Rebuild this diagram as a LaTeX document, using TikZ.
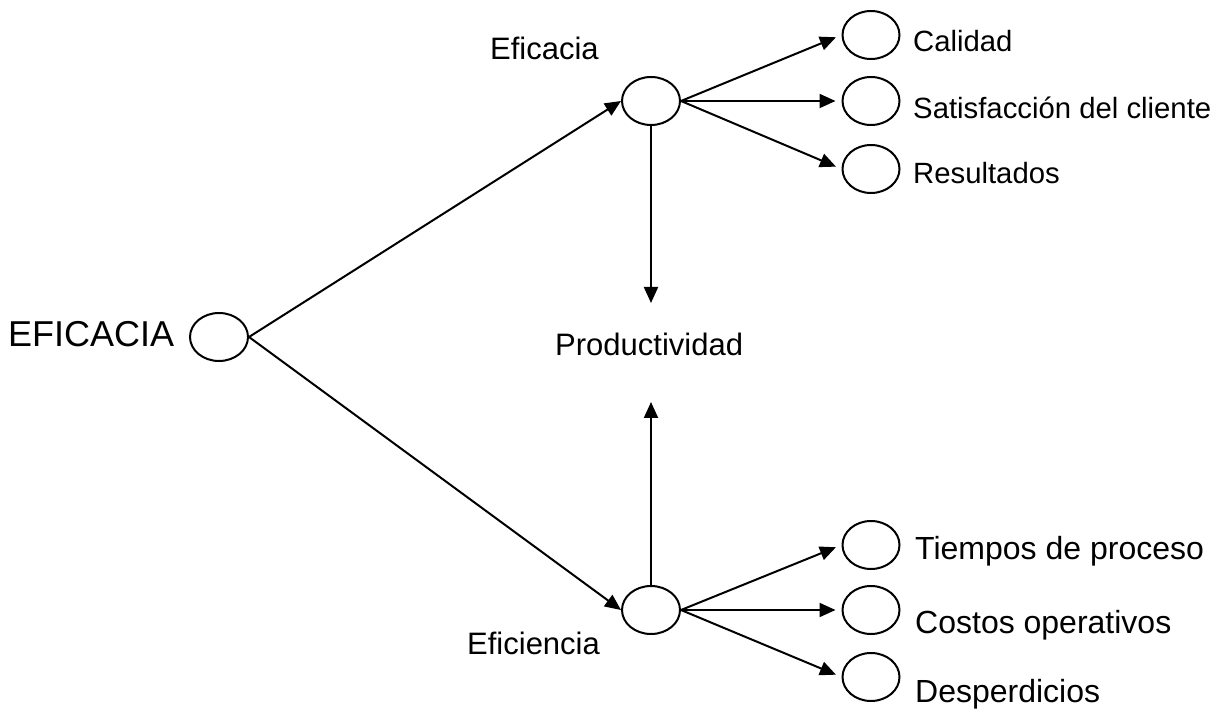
\documentclass[tikz,border=0pt]{standalone}
\usepackage{fontspec}
\setmainfont{Liberation Sans}
\usetikzlibrary{arrows.meta,shapes.geometric}
\newcommand{\fsz}[1]{\fontsize{#1}{#1}\selectfont}
\begin{document}
\begin{tikzpicture}[x=1pt,y=-1pt,
  ov/.style={draw, ellipse, line width=2pt, minimum width=58pt, minimum height=48pt, inner sep=0pt},
  sov/.style={ov, minimum width=57pt},
  arr/.style={line width=2pt, -{Triangle[length=16pt,width=14pt]}},
  lbl/.style={anchor=base west, inner sep=0pt}]
\useasboundingbox (0,0) rectangle (1219,711);
% ellipses
\node[ov] (main) at (219,337) {};
\node[ov] (top) at (651,101) {};
\node[ov] (bot) at (651,610) {};
\node[sov] (r1) at (871,35) {};
\node[sov] (r2) at (871,101) {};
\node[sov] (r3) at (871,169) {};
\node[sov] (r4) at (871,545) {};
\node[sov] (r5) at (871,610) {};
\node[sov] (r6) at (871,677) {};
% labels
\node[lbl, font=\fsz{36}] (tmain) at (8,347) {EFICACIA};
\node[lbl, font=\fsz{31}] (ttop) at (490,60) {Eficacia};
\node[lbl, font=\fsz{31}] (tbot) at (467,654) {Eficiencia};
\node[lbl, font=\fsz{31}] (tprod) at (555,356) {Productividad};
\node[lbl, font=\fsz{29.3}] (l1) at (913,52) {Calidad};
\node[lbl, font=\fsz{29.3}] (l2) at (913,119) {Satisfacción del cliente};
\node[lbl, font=\fsz{29.3}] (l3) at (913,184) {Resultados};
\node[lbl, font=\fsz{32}] (l4) at (915,559) {Tiempos de proceso};
\node[lbl, font=\fsz{32}] (l5) at (915,633) {Costos operativos};
\node[lbl, font=\fsz{32}] (l6) at (915,702) {Desperdicios};
% free ends
\coordinate (pa) at (651,303);
\coordinate (pb) at (651,402);
% connectors
\draw[arr] (main.east) -- (top.west);
\draw[arr] (main.east) -- (bot.west);
\draw[arr] (top.south) -- (pa);
\draw[arr] (bot.north) -- (pb);
\draw[arr, shorten >=6pt] (top.east) -- (r1.west);
\draw[arr, shorten >=6pt] (top.east) -- (r2.west);
\draw[arr, shorten >=6pt] (top.east) -- (r3.west);
\draw[arr, shorten >=6pt] (bot.east) -- (r4.west);
\draw[arr, shorten >=6pt] (bot.east) -- (r5.west);
\draw[arr, shorten >=6pt] (bot.east) -- (r6.west);
\end{tikzpicture}
\end{document}
